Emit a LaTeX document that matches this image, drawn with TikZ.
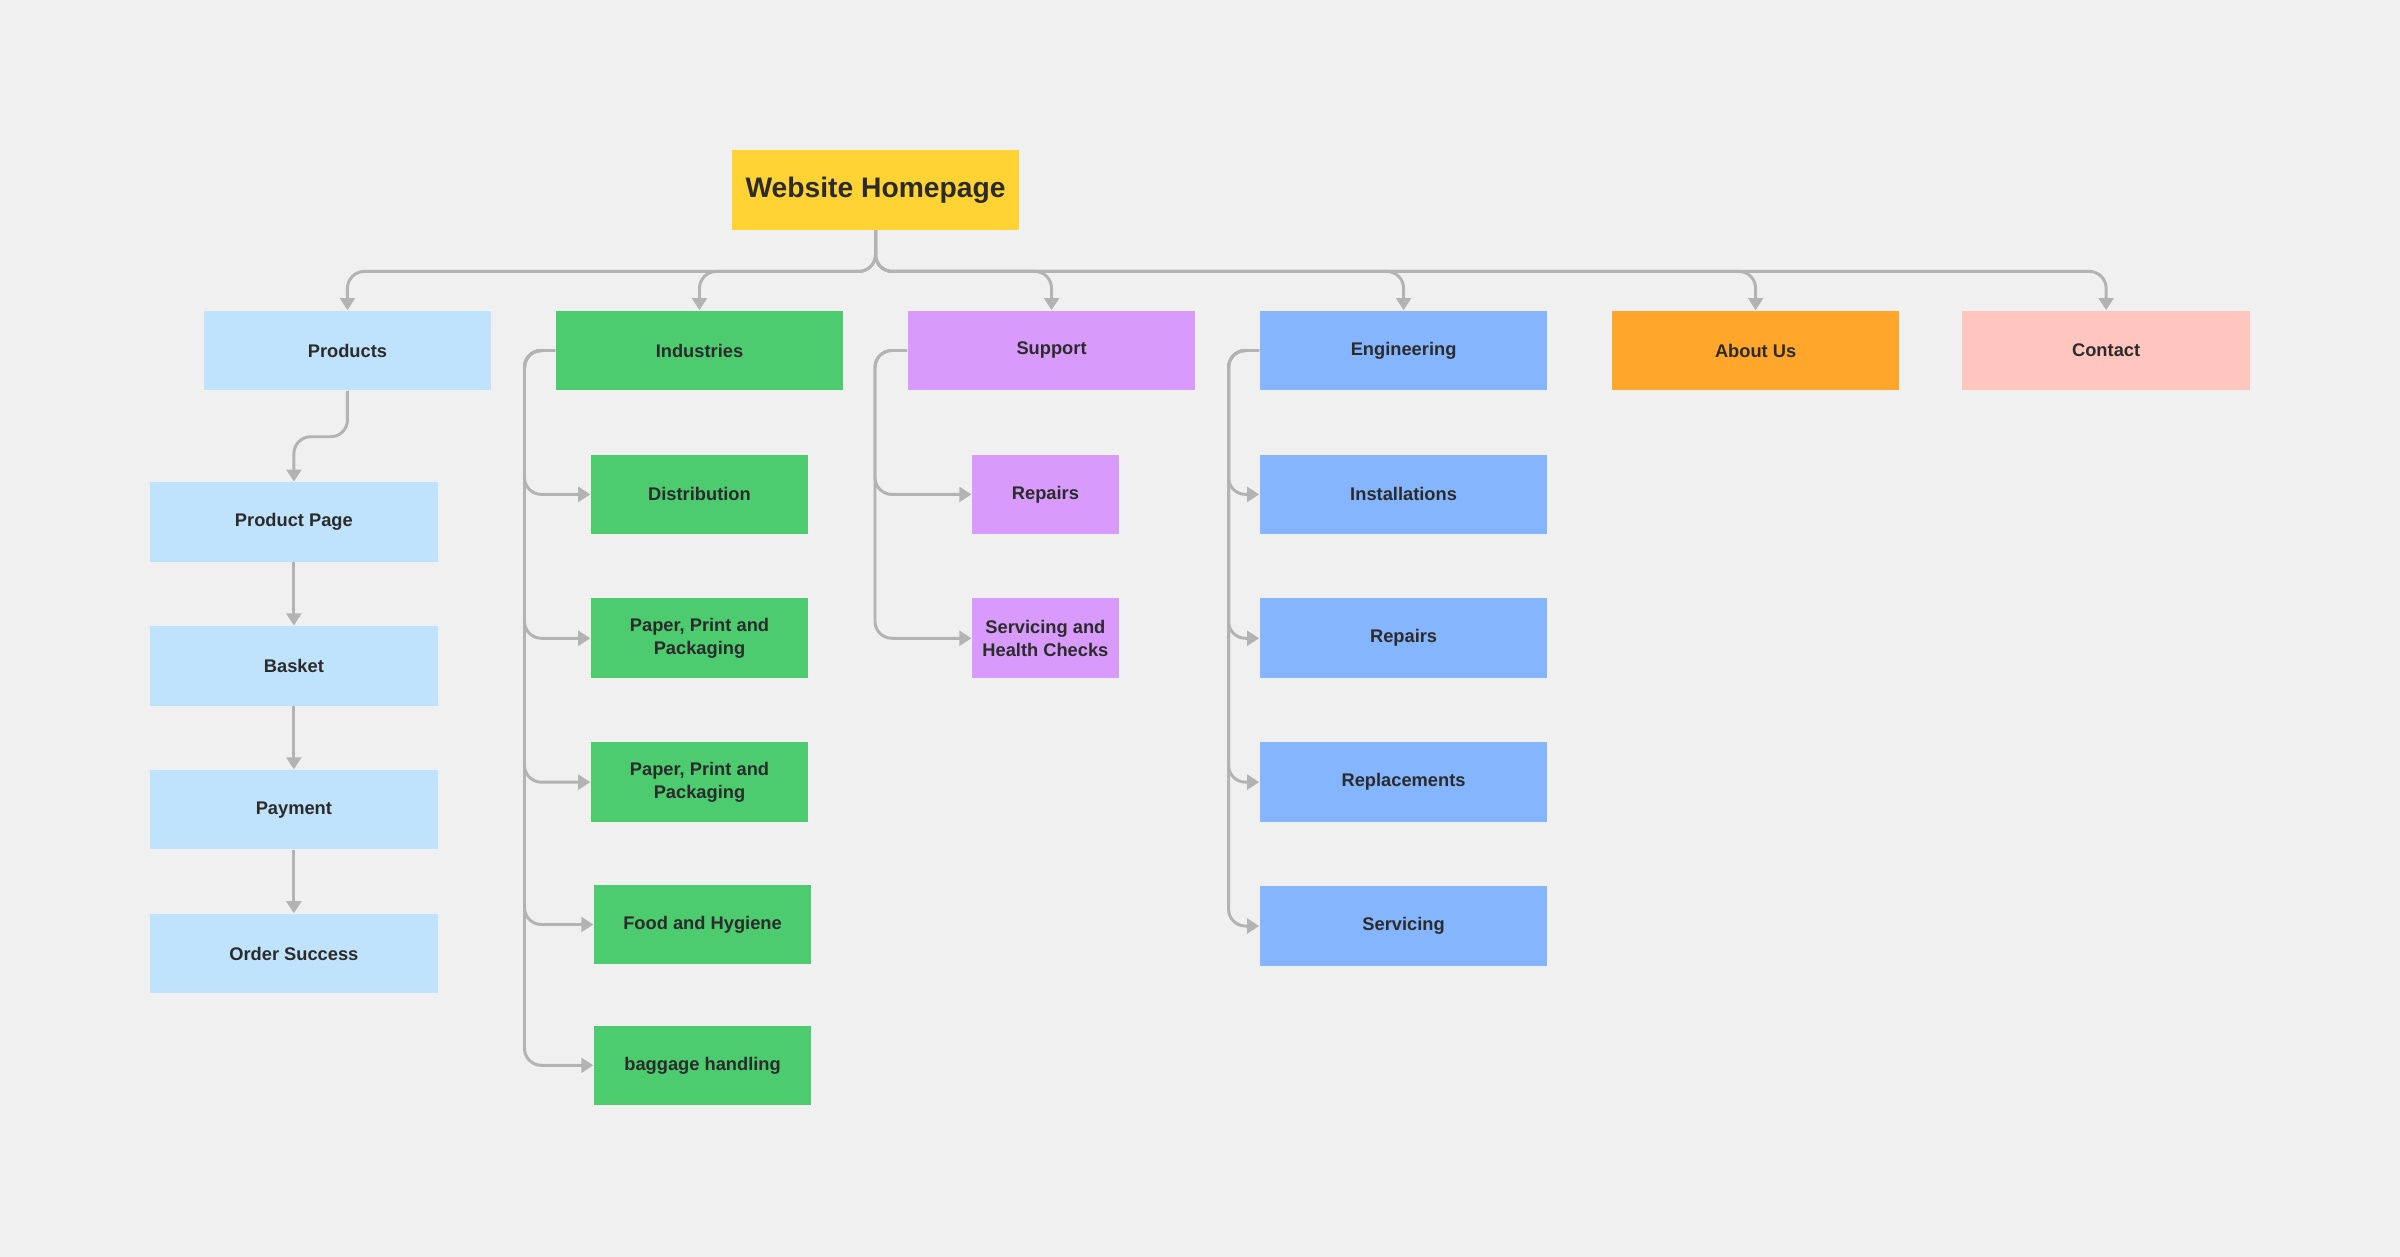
\documentclass[tikz,border=0pt]{standalone}
\usepackage{fontspec}
\setmainfont{Liberation Sans}
\usetikzlibrary{arrows.meta}
\definecolor{bg}{HTML}{F0F0F0}
\definecolor{ln}{HTML}{B3B3B3}
\definecolor{cy}{HTML}{FFD333}
\definecolor{cb}{HTML}{BFE3FC}
\definecolor{cg}{HTML}{4CCB6F}
\definecolor{cp}{HTML}{D89BFC}
\definecolor{ce}{HTML}{85B5FD}
\definecolor{co}{HTML}{FFA62B}
\definecolor{cr}{HTML}{FFC6BF}
\definecolor{tx}{HTML}{2B2B2B}
\begin{document}
\begin{tikzpicture}[x=0.02cm,y=-0.02cm,
 box/.style={draw=none,minimum width=3.76cm,minimum height=1.04cm,inner sep=0pt,align=center,font=\fontsize{6.8}{8.5}\selectfont\bfseries,text=tx},
 sm/.style={box,minimum width=2.84cm},
 xs/.style={box,minimum width=1.92cm},
 con/.style={draw=ln,line width=1.1pt,rounded corners=0.22cm,-{Triangle[width=5.5pt,length=4.5pt]}}]
\fill[bg] (0,0) rectangle (1568,821);
\node[box,fill=cy,font=\fontsize{10.5}{12}\selectfont\bfseries] (home) at (572,124) {Website Homepage};
\node[box,fill=cb] (prod) at (227,229) {Products};
\node[box,fill=cg] (ind) at (457,229) {Industries};
\node[box,fill=cp] (sup) at (687,229) {Support};
\node[box,fill=ce] (eng) at (917,229) {Engineering};
\node[box,fill=co] (about) at (1147,229) {About Us};
\node[box,fill=cr] (cont) at (1376,229) {Contact};
\node[box,fill=cb] (pp) at (192,341) {Product Page};
\node[box,fill=cb] (bask) at (192,435) {Basket};
\node[box,fill=cb] (pay) at (192,529) {Payment};
\node[box,fill=cb] (os) at (192,623) {Order Success};
\node[sm,fill=cg] (i1) at (457,323) {Distribution};
\node[sm,fill=cg] (i2) at (457,417) {Paper, Print and\\Packaging};
\node[sm,fill=cg] (i3) at (457,511) {Paper, Print and\\Packaging};
\node[sm,fill=cg] (i4) at (459,604) {Food and Hygiene};
\node[sm,fill=cg] (i5) at (459,696) {baggage handling};
\node[xs,fill=cp] (s1) at (683,323) {Repairs};
\node[xs,fill=cp] (s2) at (683,417) {Servicing and\\Health Checks};
\node[box,fill=ce] (e1) at (917,323) {Installations};
\node[box,fill=ce] (e2) at (917,417) {Repairs};
\node[box,fill=ce] (e3) at (917,511) {Replacements};
\node[box,fill=ce] (e4) at (917,605) {Servicing};
\foreach \c in {prod,ind,sup,eng,about,cont}
  \draw[con] (home.south) -- ++(0,27) -| (\c.north);
\draw[con] (prod.south) -- ++(0,30) -| (pp.north);
\draw[con] (pp.south) -- (bask.north);
\draw[con] (bask.south) -- (pay.north);
\draw[con] (pay.south) -- (os.north);
\foreach \c in {i1,i2,i3,i4,i5}
  \draw[con] (ind.west) -- ++(-20,0) |- (\c.west);
\foreach \c in {s1,s2}
  \draw[con] (sup.west) -- ++(-21,0) |- (\c.west);
\foreach \c in {e1,e2,e3,e4}
  \draw[con] (eng.west) -- ++(-20,0) |- (\c.west);
\end{tikzpicture}
\end{document}
